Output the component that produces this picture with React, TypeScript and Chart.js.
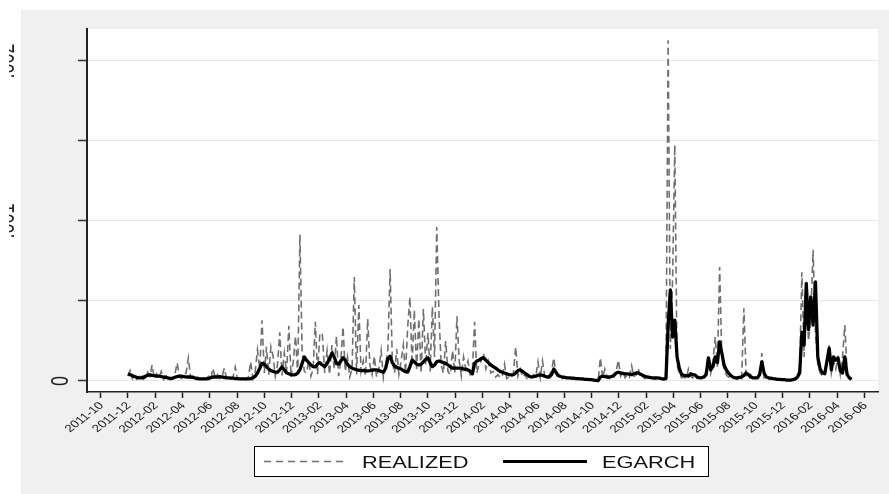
import React, { useEffect, useRef } from "react";
import { Chart, registerables } from "chart.js";

Chart.register(...registerables);

// ---------- data ----------
const START_DATE = "2011-12-01"; // first observation
const STEP_DAYS = 5; // spacing between observations
const UNIT = 1e-4; // values below are in units of 0.0001

const SERIES_NAMES = ["REALIZED", "EGARCH"];

const X_TICK_LABELS = [
  "2011-10", "2011-12", "2012-02", "2012-04", "2012-06", "2012-08", "2012-10", "2012-12",
  "2013-02", "2013-04", "2013-06", "2013-08", "2013-10", "2013-12", "2014-02", "2014-04",
  "2014-06", "2014-08", "2014-10", "2014-12", "2015-02", "2015-04", "2015-06", "2015-08",
  "2015-10", "2015-12", "2016-02", "2016-04", "2016-06",
];

const Y_TICK_VALUES = [0, 0.0005, 0.001, 0.0015, 0.002];
const Y_LABEL_VALUES = [0, 0.001, 0.002];
const Y_LABELS = ["0", ".001", ".002"];

const REALIZED = [
  0.3, 0.65, 0.15, 0.4, 0.1, 0.25, 0.45, 0.1, 0.2, 0.55, 0.3, 1.0, 0.15, 0.45, 0.2, 0.6, 0.1, 0.3, 0.4, 0.1,
  0.2, 0.45, 1.13, 0.25, 0.15, 0.35, 0.5, 1.45, 0.2, 0.3, 0.1, 0.25, 0.15, 0.1, 0.2, 0.15, 0.3, 0.1, 0.8, 0.2,
  0.4, 0.15, 0.25, 0.8, 0.2, 0.3, 0.15, 0.25, 0.88, 0.15, 0.1, 0.2, 0.15, 0.1, 0.25, 1.2, 0.15, 0.6, 1.95, 0.75,
  3.8, 0.5, 2.13, 0.4, 2.13, 1.55, 0.3, 1.0, 3.05, 0.35, 1.75, 0.5, 3.45, 0.25, 1.25, 2.8, 0.4, 9.15, 1.75, 0.6,
  0.5, 1.25, 0.3, 0.75, 3.7, 0.4, 2.95, 3.0, 0.5, 1.9, 0.4, 2.25, 0.75, 2.8, 0.3, 1.25, 3.38, 0.6, 1.5, 0.25,
  0.75, 6.5, 0.4, 4.75, 0.6, 1.25, 0.3, 3.88, 1.0, 0.4, 1.55, 0.25, 0.75, 1.9, 0.2, 1.0, 2.0, 7.0, 1.25, 0.5,
  2.0, 0.4, 1.25, 2.25, 0.5, 3.38, 5.25, 1.0, 4.45, 0.75, 3.88, 0.5, 4.5, 1.0, 3.0, 0.6, 4.63, 1.5, 9.63, 4.2,
  1.0, 0.5, 2.5, 0.6, 0.4, 1.9, 0.5, 4.05, 1.25, 0.3, 1.5, 0.75, 1.25, 0.4, 0.6, 3.7, 0.5, 1.0, 1.25, 1.75,
  0.75, 1.25, 0.5, 0.6, 0.25, 0.4, 0.2, 0.3, 1.05, 0.15, 0.25, 0.2, 0.5, 2.13, 0.3, 0.75, 0.25, 0.4, 0.15, 0.2,
  0.15, 0.4, 0.25, 1.2, 0.2, 1.25, 0.3, 0.15, 0.4, 0.6, 1.45, 0.45, 0.2, 0.3, 0.15, 0.25, 0.1, 0.2, 0.15, 0.1,
  0.15, 0.1, 0.13, 0.08, 0.1, 0.05, 0.1, 0.05, 0.08, 0.05, 0.05, 1.45, 0.2, 0.75, 0.25, 0.15, 0.4, 0.25, 0.6, 1.3,
  0.3, 0.6, 0.2, 0.4, 0.25, 0.95, 0.3, 0.35, 0.8, 0.2, 0.3, 0.15, 0.25, 0.13, 0.2, 0.1, 0.15, 0.08, 0.1, 0.05,
  0.15, 21.3, 2.0, 6.25, 14.75, 1.0, 0.4, 0.2, 0.25, 0.15, 0.75, 0.3, 0.2, 0.4, 0.15, 0.2, 0.3, 0.25, 0.6, 1.5,
  0.5, 1.25, 2.75, 0.9, 7.13, 1.5, 0.75, 0.4, 0.25, 0.3, 0.15, 0.2, 0.1, 0.25, 0.15, 4.55, 0.3, 0.2, 0.4, 0.15,
  0.15, 0.25, 0.4, 1.75, 0.2, 0.3, 0.15, 0.1, 0.15, 0.08, 0.1, 0.05, 0.08, 0.05, 0.05, 0.06, 0.05, 0.1, 0.15, 0.4,
  0.75, 6.8, 1.5, 6.0, 2.5, 4.0, 8.2, 3.0, 1.0, 0.5, 0.3, 0.6, 1.0, 2.25, 0.5, 1.25, 0.75, 1.4, 0.4, 1.5,
  3.5, 0.5, 0.25, 0.15,
];

const EGARCH = [
  0.45, 0.4, 0.33, 0.28, 0.23, 0.2, 0.2, 0.23, 0.3, 0.35, 0.38, 0.35, 0.33, 0.3, 0.3, 0.28, 0.25, 0.23, 0.18, 0.15,
  0.18, 0.23, 0.28, 0.3, 0.3, 0.28, 0.25, 0.25, 0.25, 0.23, 0.18, 0.15, 0.13, 0.13, 0.13, 0.13, 0.15, 0.2, 0.25, 0.25,
  0.25, 0.28, 0.25, 0.23, 0.2, 0.2, 0.18, 0.18, 0.15, 0.15, 0.13, 0.13, 0.13, 0.13, 0.13, 0.15, 0.2, 0.3, 0.5, 0.8,
  1.1, 1.05, 0.9, 0.75, 0.65, 0.6, 0.55, 0.55, 0.7, 0.88, 0.7, 0.5, 0.45, 0.4, 0.38, 0.4, 0.5, 0.7, 1.1, 1.5,
  1.3, 1.15, 1.0, 0.9, 0.88, 1.05, 1.15, 1.0, 0.9, 1.1, 1.4, 1.75, 1.5, 1.1, 1.05, 1.25, 1.45, 1.3, 1.05, 0.9,
  0.8, 0.75, 0.7, 0.68, 0.65, 0.65, 0.63, 0.63, 0.65, 0.68, 0.7, 0.7, 0.65, 0.6, 0.55, 0.8, 1.4, 1.55, 1.15, 0.95,
  0.85, 0.8, 0.75, 0.65, 0.58, 0.55, 0.9, 1.3, 1.2, 1.05, 1.0, 1.05, 1.2, 1.35, 1.45, 1.15, 0.9, 1.0, 1.2, 1.25,
  1.2, 1.15, 1.1, 1.0, 0.9, 0.8, 0.8, 0.8, 0.8, 0.8, 0.75, 0.73, 0.7, 0.6, 0.45, 1.1, 1.25, 1.3, 1.4, 1.45,
  1.3, 1.15, 1.0, 0.9, 0.8, 0.7, 0.6, 0.55, 0.5, 0.45, 0.4, 0.38, 0.4, 0.5, 0.65, 0.7, 0.6, 0.5, 0.4, 0.3,
  0.25, 0.28, 0.3, 0.35, 0.38, 0.35, 0.3, 0.25, 0.25, 0.4, 0.75, 0.55, 0.35, 0.28, 0.25, 0.23, 0.2, 0.2, 0.18, 0.18,
  0.15, 0.15, 0.13, 0.13, 0.1, 0.1, 0.08, 0.08, 0.05, 0.04, 0.03, 0.25, 0.3, 0.28, 0.25, 0.25, 0.28, 0.35, 0.5, 0.55,
  0.5, 0.48, 0.45, 0.45, 0.43, 0.4, 0.45, 0.5, 0.5, 0.43, 0.35, 0.3, 0.25, 0.23, 0.2, 0.2, 0.2, 0.18, 0.15, 0.13,
  0.15, 3.5, 5.7, 2.75, 3.8, 1.5, 0.8, 0.4, 0.35, 0.33, 0.3, 0.45, 0.4, 0.38, 0.25, 0.2, 0.2, 0.25, 0.4, 1.45,
  0.7, 0.9, 1.5, 1.15, 2.45, 1.75, 1.0, 0.7, 0.5, 0.35, 0.25, 0.2, 0.2, 0.23, 0.25, 0.35, 0.5, 0.4, 0.25, 0.2,
  0.2, 0.2, 0.4, 1.2, 0.5, 0.25, 0.2, 0.18, 0.15, 0.13, 0.1, 0.1, 0.08, 0.08, 0.06, 0.06, 0.06, 0.08, 0.13, 0.25,
  0.5, 3.05, 2.25, 6.1, 3.2, 5.25, 3.5, 6.2, 1.5, 0.75, 0.5, 0.45, 1.25, 2.05, 0.7, 1.5, 1.3, 1.45, 0.65, 0.5,
  1.5, 0.4, 0.2, 0.1,
];

// ---------- helpers ----------
const TEXT_STRETCH = 1.28;
const FONT = "'Liberation Sans', Arial, Helvetica, sans-serif";

// months elapsed since 2011-10-01 (fractional)
function monthOffset(d: Date): number {
  const y = d.getUTCFullYear();
  const m = d.getUTCMonth();
  const day = d.getUTCDate();
  const dim = new Date(Date.UTC(y, m + 1, 0)).getUTCDate();
  return (y - 2011) * 12 + (m - 9) + (day - 1) / dim;
}

function seriesPoints(values: number[]) {
  const start = new Date(START_DATE + "T00:00:00Z").getTime();
  return values.map((v, i) => ({
    x: monthOffset(new Date(start + i * STEP_DAYS * 86400000)),
    y: v * UNIT,
  }));
}

const framePlugin = {
  id: "frame",
  beforeDraw(chart: any) {
    const { ctx, width, height, chartArea } = chart;
    ctx.save();
    ctx.fillStyle = "#ffffff";
    ctx.fillRect(0, 0, width, height);
    ctx.fillStyle = "#f0f0f0";
    ctx.fillRect(21, 10, width - 21, height - 10);
    ctx.fillStyle = "#ffffff";
    ctx.fillRect(chartArea.left, chartArea.top, chartArea.right - chartArea.left, chartArea.bottom - chartArea.top);
    ctx.restore();
  },
  afterDraw(chart: any) {
    const { ctx } = chart;
    const xs = chart.scales.x;
    const ys = chart.scales.y;

    // x tick labels (rotated)
    ctx.save();
    ctx.fillStyle = "#1a1a1a";
    ctx.font = `10.5px ${FONT}`;
    ctx.textAlign = "right";
    ctx.textBaseline = "middle";
    X_TICK_LABELS.forEach((lab, i) => {
      const px = xs.getPixelForValue(i * 2);
      ctx.save();
      ctx.translate(px + 1, 404);
      ctx.scale(TEXT_STRETCH, 1);
      ctx.rotate(-Math.PI / 4);
      ctx.fillText(lab, 0, 0);
      ctx.restore();
    });
    ctx.restore();

    // y tick labels (vertical)
    ctx.save();
    ctx.beginPath();
    ctx.rect(9, 0, chart.width, chart.height);
    ctx.clip();
    ctx.fillStyle = "#222";
    ctx.font = `18px ${FONT}`;
    ctx.textAlign = "center";
    ctx.textBaseline = "alphabetic";
    Y_LABEL_VALUES.forEach((v, i) => {
      const py = ys.getPixelForValue(v);
      const bx = v === 0 ? 68 : 13.5;
      ctx.save();
      ctx.translate(bx, py);
      ctx.scale(TEXT_STRETCH, 1);
      ctx.rotate(-Math.PI / 2);
      ctx.fillText(Y_LABELS[i], 0, 0);
      ctx.restore();
    });
    ctx.restore();

    // legend
    ctx.save();
    const lx = 254.5, ly = 446.5, lw = 454, lh = 30;
    ctx.fillStyle = "#ffffff";
    ctx.fillRect(lx, ly, lw, lh);
    ctx.strokeStyle = "#000";
    ctx.lineWidth = 1;
    ctx.strokeRect(lx, ly, lw, lh);
    const midY = ly + lh / 2;
    ctx.beginPath();
    ctx.setLineDash([7, 5]);
    ctx.strokeStyle = "#707070";
    ctx.lineWidth = 1.4;
    ctx.moveTo(264, midY);
    ctx.lineTo(347, midY);
    ctx.stroke();
    ctx.setLineDash([]);
    ctx.beginPath();
    ctx.strokeStyle = "#000";
    ctx.lineWidth = 3;
    ctx.moveTo(503, midY);
    ctx.lineTo(587, midY);
    ctx.stroke();
    ctx.fillStyle = "#111";
    ctx.font = `17px ${FONT}`;
    ctx.textAlign = "left";
    ctx.textBaseline = "alphabetic";
    [[362, SERIES_NAMES[0]], [602, SERIES_NAMES[1]]].forEach(([x, t]) => {
      ctx.save();
      ctx.translate(x as number, 468);
      ctx.scale(TEXT_STRETCH, 1);
      ctx.fillText(t as string, 0, 0);
      ctx.restore();
    });
    ctx.restore();
  },
};

export default function App() {
  const ref = useRef<HTMLCanvasElement | null>(null);

  useEffect(() => {
    if (!ref.current) return;
    const chart = new Chart(ref.current, {
      type: "line",
      data: {
        datasets: [
          {
            label: SERIES_NAMES[1],
            data: seriesPoints(EGARCH),
            borderColor: "#000000",
            borderWidth: 3.3,
            pointRadius: 0,
            tension: 0,
            order: 0,
            borderJoinStyle: "round",
          },
          {
            label: SERIES_NAMES[0],
            data: seriesPoints(REALIZED),
            borderColor: "#707070",
            borderWidth: 1.6,
            borderDash: [7, 4],
            pointRadius: 0,
            tension: 0,
            order: 1,
          },
        ],
      },
      options: {
        animation: false,
        responsive: false,
        devicePixelRatio: 1,
        parsing: false,
        normalized: true,
        layout: { padding: { top: 29, right: 11, left: 0, bottom: 0 } },
        plugins: { legend: { display: false }, tooltip: { enabled: false } },
        scales: {
          x: {
            type: "linear",
            min: -1,
            max: 57,
            afterBuildTicks: (s: any) => {
              s.ticks = X_TICK_LABELS.map((_, i) => ({ value: i * 2 }));
            },
            afterFit: (s: any) => {
              s.height = 102;
            },
            ticks: { display: false },
            grid: {
              drawOnChartArea: false,
              drawTicks: true,
              tickLength: 6,
              tickColor: "#222",
              tickWidth: 1.5,
            },
            border: { display: true, color: "#222", width: 1.5 },
          },
          y: {
            type: "linear",
            min: -0.0000688,
            max: 0.0022,
            afterBuildTicks: (s: any) => {
              s.ticks = Y_TICK_VALUES.map((v) => ({ value: v }));
            },
            afterFit: (s: any) => {
              s.width = 87;
            },
            ticks: { display: false },
            grid: {
              color: "#e6e6e6",
              lineWidth: 1,
              drawTicks: true,
              tickLength: 9,
              tickColor: "#333",
              tickWidth: 1.5,
            },
            border: { display: true, color: "#222", width: 2 },
          },
        },
      },
      plugins: [framePlugin],
    } as any);
    return () => chart.destroy();
  }, []);

  return (
    <div style={{ position: "fixed", left: 0, top: 0, width: 889, height: 494 }}>
      <canvas ref={ref} width={889} height={494} style={{ display: "block" }} />
    </div>
  );
}
